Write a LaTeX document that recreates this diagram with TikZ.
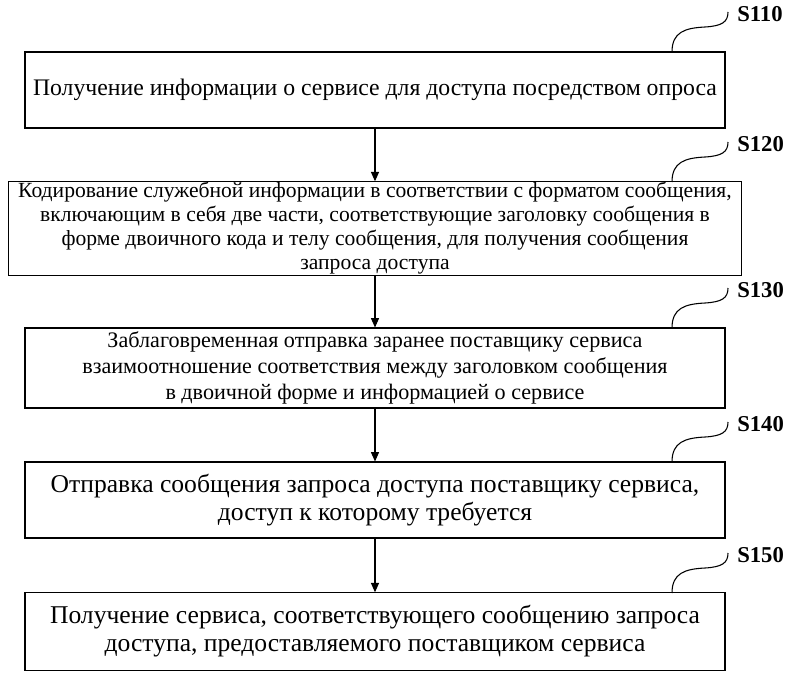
\documentclass[tikz,border=0pt]{standalone}
\usepackage{fontspec}
\setmainfont{Liberation Serif}
\usetikzlibrary{arrows.meta}

\begin{document}
\begin{tikzpicture}[x=0.75pt,y=-0.75pt,
    stepbox/.style={draw, thick, inner sep=0pt, align=center},
    flow/.style={-{Triangle[length=7pt,width=6pt]}, thick},
    tag/.style={font=\bfseries\fontsize{17}{19}\selectfont, anchor=west, inner sep=0pt}]
    \useasboundingbox (0,0) rectangle (800,678);

    % boxes
    \node[stepbox, minimum width=525pt, minimum height=57pt, font=\fontsize{17.8}{21}\selectfont] (s110) at (375,90)
        {Получение информации о сервисе для доступа посредством опроса};
    \node[stepbox, minimum width=550pt, minimum height=70pt, font=\fontsize{16.2}{18}\selectfont] (s120) at (375,228.5)
        {Кодирование служебной информации в соответствии с форматом сообщения,\\
         включающим в себя две части, соответствующие заголовку сообщения в\\
         форме двоичного кода и телу сообщения, для получения сообщения\\
         запроса доступа};
    \node[stepbox, minimum width=525pt, minimum height=60pt, font=\fontsize{16.6}{19.5}\selectfont] (s130) at (375,368)
        {Заблаговременная отправка заранее поставщику сервиса\\
         взаимоотношение соответствия между заголовком сообщения\\
         в двоичной форме и информацией о сервисе};
    \node[stepbox, minimum width=525pt, minimum height=57pt, font=\fontsize{19.2}{21}\selectfont] (s140) at (375,500)
        {Отправка сообщения запроса доступа поставщику сервиса,\\
         доступ к которому требуется};
    \node[stepbox, minimum width=525pt, minimum height=58pt, font=\fontsize{19.2}{21}\selectfont] (s150) at (375,631.5)
        {Получение сервиса, соответствующего сообщению запроса\\
         доступа, предоставляемого поставщиком сервиса};

    % arrows
    \draw[flow] (s110) -- (s120);
    \draw[flow] (s120) -- (s130);
    \draw[flow] (s130) -- (s140);
    \draw[flow] (s140) -- (s150);

    % step tags
    \foreach \b/\t/\y in {s110/S110/52, s120/S120/182, s130/S130/328, s140/S140/462, s150/S150/593}{
        \draw[thick] (672,\y) .. controls (672,\y-20) and (685,\y-24) .. (705,\y-25)
            .. controls (722,\y-26) and (728,\y-30) .. (728,\y-40);
        \node[tag] (l\b) at (737,\y-38) {\t};
    }
\end{tikzpicture}
\end{document}
